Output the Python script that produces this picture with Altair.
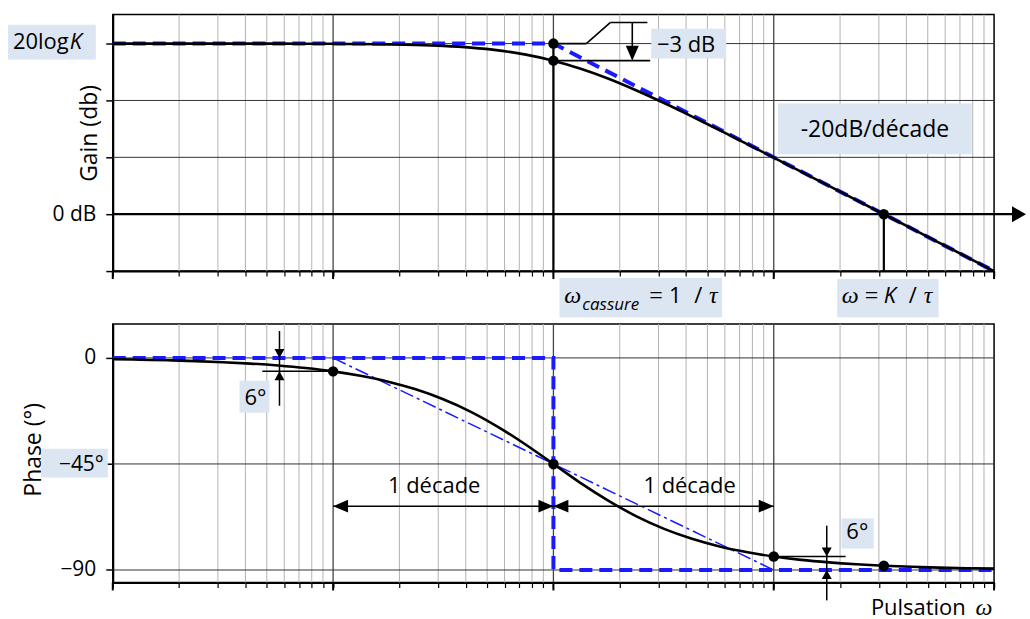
import altair as alt
import pandas as pd

# ---------------------------------------------------------------------------
# First-order low-pass system H = K / (1 + j w tau), K = 31.6 (20 log K = 30 dB)
# w is the pulsation normalised to 1/tau, sampled every 1/8 decade
# ---------------------------------------------------------------------------
w = [0.01, 0.0133, 0.0178, 0.0237, 0.0316, 0.0422, 0.0562, 0.075,
     0.1, 0.133, 0.178, 0.237, 0.316, 0.422, 0.562, 0.75,
     1.0, 1.33, 1.78, 2.37, 3.16, 4.22, 5.62, 7.5,
     10.0, 13.3, 17.8, 23.7, 31.6, 42.2, 56.2, 75.0, 100.0]
gain_db = [30.0, 30.0, 30.0, 30.0, 30.0, 29.99, 29.99, 29.98,
           29.96, 29.92, 29.86, 29.76, 29.59, 29.29, 28.81, 28.06,
           26.99, 25.56, 23.81, 21.79, 19.59, 17.26, 14.86, 12.42,
           9.96, 7.48, 4.99, 2.49, 0.0, -2.5, -5.0, -7.5, -10.0]
phase_deg = [-0.57, -0.76, -1.02, -1.36, -1.81, -2.41, -3.22, -4.29,
             -5.71, -7.60, -10.08, -13.34, -17.55, -22.87, -29.35, -36.86,
             -45.0, -53.14, -60.65, -67.13, -72.45, -76.66, -79.92, -82.40,
             -84.29, -85.71, -86.78, -87.58, -88.19, -88.64, -88.98, -89.24, -89.43]

# asymptotic (straight-line) approximations
gain_asym_w = [0.01, 1.0, 100.0]
gain_asym_db = [30.0, 30.0, -10.0]
phase_step_w = [0.01, 1.0, 1.0, 100.0]
phase_step_deg = [0.0, 0.0, -90.0, -90.0]
phase_ramp_w = [0.1, 10.0]
phase_ramp_deg = [0.0, -90.0]

# remarkable points
gain_pts_w = [1.0, 1.0, 31.6]
gain_pts_db = [30.0, 27.0, 0.0]
phase_pts_w = [0.1, 1.0, 10.0, 31.6]
phase_pts_deg = [-5.71, -45.0, -84.29, -88.19]

# log grid: decades and their 2..9 subdivisions
major_w = [0.01, 0.1, 1.0, 10.0, 100.0]
minor_w = [round(m * d, 4) for d in major_w[:-1] for m in range(2, 10)]
x_ticks = sorted(major_w + minor_w)
gain_grid = [10.0, 20.0, 30.0]
phase_grid = [-90.0, -45.0, 0.0]

FONT = "Open Sans"
SERIF = "Liberation Serif"
BOX = "#dce6f2"
BLUE = "#1a1aff"

G_LO, G_HI = -10.0, 35.1
P_LO, P_HI = -95.3, 14.4
xs = alt.Scale(type="log", domain=[0.01, 100], nice=False)
ys_g = alt.Scale(domain=[G_LO, G_HI], nice=False, zero=False)
ys_p = alt.Scale(domain=[P_LO, P_HI], nice=False, zero=False)


def x_axis():
    return alt.Axis(values=x_ticks, labels=False, title=None, grid=False,
                    tickColor="black", tickSize=5, tickWidth=1.2,
                    domainColor="black", domainWidth=2)


def y_axis(values, label_expr):
    return alt.Axis(values=values, labelExpr=label_expr, grid=False, title=None,
                    tickColor="black", tickSize=7, tickWidth=1.5,
                    domainColor="black", domainWidth=2,
                    labelFont=FONT, labelFontSize=21, labelColor="black", labelPadding=10)


def X(ax=None):
    if ax is None:
        return alt.X("w:Q", scale=xs)
    return alt.X("w:Q", scale=xs, axis=ax)


def Y(ys, ax=None):
    if ax is None:
        return alt.Y("v:Q", scale=ys)
    return alt.Y("v:Q", scale=ys, axis=ax)


def arrow_head(direction, length, width):
    r = length / 2.0
    hw = (width / 2.0) / r
    paths = {
        "left": f"M0,0 L2,{-hw} L2,{hw} Z",
        "right": f"M0,0 L-2,{-hw} L-2,{hw} Z",
        "down": f"M0,0 L{-hw},-2 L{hw},-2 Z",
        "up": f"M0,0 L{-hw},2 L{hw},2 Z",
    }
    return paths[direction], length * length


def heads(items, ys):
    rows = []
    for hw_, hv, d, ln, wd in items:
        s, z = arrow_head(d, ln, wd)
        rows.append({"w": hw_, "v": hv, "s": s, "z": z})
    return alt.Chart(pd.DataFrame(rows)).mark_point(
        filled=True, color="black", opacity=1, strokeWidth=0
    ).encode(x=X(), y=Y(ys), shape=alt.Shape("s:N", scale=None),
             size=alt.Size("z:Q", scale=None))


def segments(rows, ys, width, color="black", xa=None, ya=None):
    df = pd.DataFrame(rows, columns=["w", "v", "w2", "v2"])
    return alt.Chart(df).mark_rule(color=color, strokeWidth=width).encode(
        x=X(xa), y=Y(ys, ya), x2="w2:Q", y2="v2:Q")


def boxes(rows, ys):
    df = pd.DataFrame(rows, columns=["w", "v", "w2", "v2"])
    return alt.Chart(df).mark_rect(color=BOX).encode(
        x=X(), y=Y(ys), x2="w2:Q", y2="v2:Q")


def side_box(px0, px1, v0, v1, ys):
    df = pd.DataFrame({"v": [v0], "v2": [v1]})
    return alt.Chart(df).mark_rect(color=BOX).encode(
        x=alt.value(px0), x2=alt.value(px1), y=Y(ys), y2="v2:Q")


def words(items, ys, size=22, font=FONT, style="normal", align="left"):
    df = pd.DataFrame(items, columns=["t", "w", "v"])
    return alt.Chart(df).mark_text(
        align=align, baseline="alphabetic", font=font, fontSize=size,
        fontStyle=style, color="black"
    ).encode(x=X(), y=Y(ys), text="t:N")


def side_word(txt, px, v, ys, size=21, style="normal", align="left", font=FONT,
              angle=0, baseline="alphabetic"):
    df = pd.DataFrame({"t": [txt], "v": [v]})
    return alt.Chart(df).mark_text(
        align=align, baseline=baseline, font=font, fontSize=size,
        fontStyle=style, color="black", angle=angle
    ).encode(x=alt.value(px), y=Y(ys), text="t:N")


def grid_layers(lo, hi, ys, hgrid, tick_drop, y_ax):
    # the first layer carries both axes; the others only draw lines
    return [
        segments([[x, hi, x, lo] for x in minor_w], ys, 1.0, "#b3b3b3",
                 xa=x_axis(), ya=y_ax),
        segments([[x, hi, x, lo] for x in major_w[1:-1]], ys, 1.3, "#444444"),
        segments([[0.01, v, 100.0, v] for v in hgrid], ys, 1.0, "#333333"),
        segments([[x, lo, x, lo - tick_drop] for x in major_w], ys, 2.0, "black"),
    ]


# ------------------------------- gain panel --------------------------------
gain_df = pd.DataFrame({"w": w, "v": gain_db})
gain_asym_df = pd.DataFrame({"w": gain_asym_w, "v": gain_asym_db})
gain_pts_df = pd.DataFrame({"w": gain_pts_w, "v": gain_pts_db})

gain_curve = alt.Chart(gain_df).mark_line(
    color="black", strokeWidth=2.6, interpolate="monotone"
).encode(x=X(), y=Y(ys_g))
gain_asym = alt.Chart(gain_asym_df).mark_line(
    color=BLUE, strokeWidth=4, strokeDash=[13, 7]
).encode(x=X(), y=Y(ys_g))
gain_points = alt.Chart(gain_pts_df).mark_circle(size=110, color="black", opacity=1).encode(
    x=X(), y=Y(ys_g))

gain_y_axis = y_axis([-10, 0, 10, 20, 30], "datum.value == 0 ? '0 dB' : ''")

top = alt.layer(
    *grid_layers(G_LO, G_HI, ys_g, gain_grid, 8 / 5.7, gain_y_axis),
    boxes([[2.778, 32.63, 6.085, 27.37],
           [10.45, 19.47, 79.1, 10.53],
           [1.065, -11.2, 5.83, -18.1],
           [19.4, -11.4, 56.0, -18.1]], ys_g),
    side_box(-105, -17, 33.33, 27.19, ys_g),
    segments([[0.01, 0.0, 125.0, 0.0],
              [1.0, 30.0, 1.0, -10.0],
              [31.6, 0.0, 31.6, -10.0]], ys_g, 2.2),
    gain_asym,
    gain_curve,
    segments([[1.0, 30.0, 1.41, 30.0],
              [1.41, 30.0, 1.81, 33.7],
              [1.81, 33.7, 2.67, 33.7],
              [2.28, 33.7, 2.28, 28.0],
              [1.0, 27.0, 2.75, 27.0]], ys_g, 1.6),
    heads([(2.28, 27.0, "down", 15, 13),
           (139.6, 0.0, "right", 14, 16)], ys_g),
    gain_points,
    side_word("Gain (db)", -23, 14.2, ys_g, size=23, align="center",
              angle=270, baseline="middle"),
    side_word("20log", -100, 29.12, ys_g, size=22),
    side_word("K", -43, 29.12, ys_g, size=22, style="italic"),
    words([["\u22123 dB", 4.0, 28.47]], ys_g, size=22, align="center"),
    words([["-20dB/décade", 28.8, 13.5]], ys_g, size=23, align="center"),
    words([["ω", 1.121, -15.6], ["τ", 5.088, -15.6],
           ["ω", 20.38, -15.6], ["τ", 47.93, -15.6]], ys_g, size=24, font=SERIF, style="italic"),
    words([["cassure", 1.353, -16.9]], ys_g, size=17, style="italic"),
    words([["=", 2.722, -15.6], ["=", 25.91, -15.6]], ys_g, size=24, font=SERIF),
    words([["1", 3.35, -15.6], ["/", 4.352, -15.6], ["/", 40.99, -15.6]], ys_g, size=22),
    words([["K", 31.58, -15.6]], ys_g, size=22, style="italic"),
).properties(width=883, height=257)

# ------------------------------- phase panel -------------------------------
phase_df = pd.DataFrame({"w": w, "v": phase_deg})
step_df = pd.DataFrame({"w": phase_step_w, "v": phase_step_deg, "i": list(range(len(phase_step_w)))})
ramp_df = pd.DataFrame({"w": phase_ramp_w, "v": phase_ramp_deg})
phase_pts_df = pd.DataFrame({"w": phase_pts_w, "v": phase_pts_deg})

phase_curve = alt.Chart(phase_df).mark_line(
    color="black", strokeWidth=2.6, interpolate="monotone"
).encode(x=X(), y=Y(ys_p))
phase_step = alt.Chart(step_df).mark_line(
    color=BLUE, strokeWidth=4, strokeDash=[13, 7]
).encode(x=X(), y=Y(ys_p), order="i:Q")
phase_ramp = alt.Chart(ramp_df).mark_line(
    color=BLUE, strokeWidth=1.5, strokeDash=[14, 4, 3, 4]
).encode(x=X(), y=Y(ys_p))
phase_points = alt.Chart(phase_pts_df).mark_circle(size=110, color="black", opacity=1).encode(
    x=X(), y=Y(ys_p))

phase_y_axis = y_axis([-90, -45, 0],
                      "datum.value == 0 ? '0' : datum.value == -90 ? '\u221290' : ''")

bottom = alt.layer(
    *grid_layers(P_LO, P_HI, ys_p, phase_grid, 8 / 2.361, phase_y_axis),
    boxes([[0.0376, -9.74, 0.0514, -23.3],
           [20.3, -68.2, 28.4, -80.9]], ys_p),
    side_word("Phase (°)", -79, -39.0, ys_p, size=23, align="center",
              angle=270, baseline="middle"),
    side_box(-72, -5, -38.5, -50.8, ys_p),
    phase_ramp,
    phase_step,
    phase_curve,
    segments([[0.0571, 11.4, 0.0571, -20.3],
              [0.0477, -5.71, 0.1, -5.71],
              [17.4, -71.2, 17.4, -102.9],
              [10.0, -84.29, 21.2, -84.29],
              [0.1, -62.9, 1.0, -62.9],
              [1.0, -62.9, 10.0, -62.9]], ys_p, 1.5),
    heads([(0.0571, 0.0, "down", 9, 10),
           (0.0571, -5.71, "up", 9, 10),
           (17.4, -84.29, "down", 9, 10),
           (17.4, -90.0, "up", 9, 10),
           (0.1, -62.9, "left", 15, 13),
           (1.0, -62.9, "right", 15, 13),
           (1.0, -62.9, "left", 15, 13),
           (10.0, -62.9, "right", 15, 13)], ys_p),
    phase_points,
    side_word("\u221245°", -9, -47.9, ys_p, size=21, align="right"),
    words([["1 décade", 0.2875, -57.5], ["1 décade", 4.15, -57.5]], ys_p, size=22, align="center"),
    words([["6°", 0.0444, -19.9], ["6°", 23.95, -76.7]], ys_p, size=22, align="center"),
    words([["Pulsation", 27.6, -108.9]], ys_p, size=22),
    words([["ω", 82.4, -108.9]], ys_p, size=24, font=SERIF, style="italic"),
).properties(width=883, height=259)

chart = alt.vconcat(top, bottom, spacing=53, bounds="flush").properties(
    padding={"left": 7, "top": 12, "right": 3, "bottom": 4}
).configure(font=FONT).configure_view(stroke="black", strokeWidth=1.5)

chart.save("out.html", embed_options={"renderer": "svg", "actions": False})
